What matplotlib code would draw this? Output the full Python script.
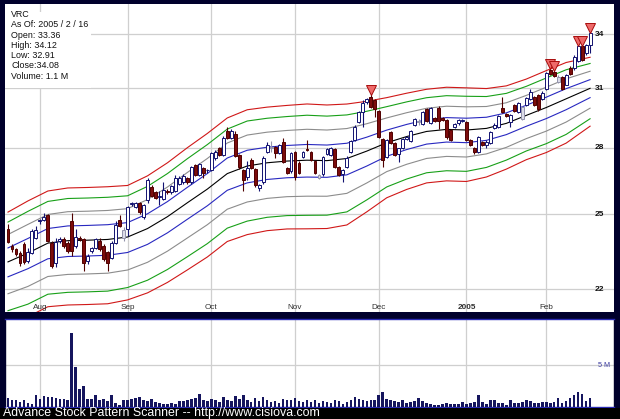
import numpy as np
import matplotlib
matplotlib.use("Agg")
import matplotlib.pyplot as plt
from matplotlib.patches import Rectangle
from matplotlib.transforms import blended_transform_factory

# ---------------- data ----------------
opens = [24.4, 23.7, 23.55, 23.4, 23.75, 23.1, 23.4, 24.0, 24.7, 24.75,
         24.95, 23.8, 23.0, 23.9, 23.95, 23.8, 24.7, 23.7, 24.0, 23.95,
         23.1, 23.5, 23.6, 23.9, 23.7, 23.45, 23.2, 23.8, 24.75, 24.0,
         24.4, 25.45, 25.3, 25.5, 24.9, 25.6, 26.2, 25.95, 25.75, 25.65,
         26.0, 25.95, 26.0, 26.35, 26.4, 26.6, 26.4, 27.2, 26.75, 27.05,
         26.95, 26.95, 27.5, 28.0, 27.65, 28.8, 28.5, 28.65, 27.65, 26.95,
         26.65, 27.45, 27.0, 26.15, 26.4, 27.8, 28.0, 28.05, 27.75, 28.3,
         27.05, 26.9, 27.8, 27.3, 27.55, 27.95, 27.8, 27.4, 26.6, 26.8,
         27.7, 27.65, 27.95, 27.1, 26.8, 27.1, 27.8, 28.4, 29.25, 29.75,
         30.3, 30.55, 30.4, 29.8, 28.45, 27.55, 28.75, 28.25, 27.7, 28.0,
         28.45, 28.35, 29.1, 29.25, 29.15, 29.9, 29.2, 29.45, 30.0, 29.45,
         29.35, 28.85, 29.0, 29.2, 29.3, 29.25, 28.4, 28.0, 27.8, 28.3,
         28.15, 28.25, 28.95, 29.0, 30.0, 29.65, 29.25, 30.15, 29.75, 29.4,
         30.15, 30.45, 30.55, 30.65, 30.45, 30.95, 32.0, 31.9, 31.35, 31.6,
         31.2, 32.1, 32.1, 32.5, 33.3, 32.9, 33.36]
highs = [24.6, 23.75, 23.6, 23.5, 23.85, 23.6, 24.4, 24.5, 24.8, 25.05,
         25.0, 23.9, 24.0, 24.05, 24.05, 23.9, 25.05, 24.4, 24.1, 24.0,
         23.35, 23.65, 24.0, 24.0, 23.75, 23.5, 23.9, 24.7, 24.95, 24.45,
         25.35, 25.55, 25.55, 25.55, 25.45, 26.6, 26.3, 26.0, 26.0, 26.4,
         26.1, 26.3, 26.75, 26.7, 26.8, 26.65, 27.15, 27.25, 27.3, 27.1,
         27.0, 27.8, 27.9, 28.05, 28.6, 29.0, 28.9, 28.8, 27.7, 27.0,
         27.4, 27.5, 27.05, 26.35, 27.6, 28.3, 28.35, 28.1, 28.2, 28.5,
         27.1, 27.8, 27.85, 27.4, 27.85, 28.4, 27.85, 27.45, 26.8, 27.6,
         28.0, 28.05, 28.0, 27.15, 27.0, 27.6, 28.4, 29.1, 29.8, 30.4,
         30.5, 30.7, 30.45, 29.85, 28.5, 28.45, 28.8, 28.3, 28.0, 28.5,
         28.6, 28.85, 29.45, 29.4, 29.8, 30.0, 30.05, 29.5, 30.1, 29.5,
         29.4, 28.9, 29.2, 29.4, 29.4, 29.3, 28.45, 28.05, 28.6, 28.35,
         28.4, 28.8, 29.2, 29.6, 30.55, 29.7, 29.65, 30.2, 30.3, 30.1,
         30.55, 30.95, 30.6, 30.7, 30.85, 31.9, 32.1, 32.0, 31.7, 31.65,
         31.75, 32.2, 32.8, 33.35, 33.4, 33.45, 34.12]
lows = [23.8, 23.45, 23.3, 22.9, 22.95, 23.0, 23.35, 23.95, 24.6, 24.7,
        23.85, 22.8, 22.85, 23.8, 23.6, 23.4, 23.3, 23.6, 23.9, 22.7,
        22.95, 23.4, 23.55, 23.5, 23.1, 22.7, 23.15, 23.75, 24.45, 23.9,
        24.1, 25.35, 25.25, 25.0, 24.8, 25.5, 25.75, 25.65, 25.4, 25.6,
        25.9, 25.9, 25.95, 26.3, 26.35, 26.35, 26.35, 26.7, 26.7, 26.6,
        26.85, 26.9, 27.45, 27.6, 27.6, 28.45, 28.45, 27.55, 27.0, 26.0,
        26.5, 27.0, 26.2, 26.0, 26.35, 27.75, 27.8, 27.5, 27.7, 27.3,
        26.8, 26.85, 26.5, 26.8, 27.5, 27.85, 27.4, 26.8, 26.55, 26.7,
        27.65, 27.6, 27.05, 26.7, 26.4, 27.05, 27.75, 28.35, 29.2, 29.0,
        30.2, 30.0, 29.5, 28.5, 27.1, 27.5, 28.2, 27.6, 27.35, 27.95,
        28.4, 28.3, 29.05, 29.1, 29.1, 29.25, 29.15, 29.25, 28.9, 29.3,
        28.45, 28.35, 28.95, 29.1, 29.25, 28.35, 28.1, 27.7, 27.75, 28.1,
        28.0, 28.2, 28.9, 28.95, 29.7, 29.5, 29.0, 29.75, 29.7, 29.35,
        30.1, 30.4, 30.1, 29.8, 30.4, 30.9, 31.7, 31.6, 31.3, 30.9,
        31.15, 31.7, 32.0, 32.45, 32.5, 32.8, 32.91]
closes = [23.85, 23.55, 23.35, 23.0, 23.05, 23.45, 24.3, 24.35, 24.75, 24.9,
          23.9, 22.9, 23.85, 23.95, 23.7, 23.5, 23.5, 24.05, 23.95, 23.0,
          23.3, 23.6, 23.95, 23.55, 23.15, 23.0, 23.8, 24.55, 24.5, 24.35,
          25.3, 25.5, 25.5, 25.1, 25.4, 26.5, 25.8, 25.7, 25.8, 26.05,
          25.95, 26.25, 26.6, 26.6, 26.7, 26.4, 27.1, 26.75, 27.25, 26.85,
          26.97, 27.75, 27.8, 27.65, 28.5, 28.5, 28.8, 27.6, 27.1, 26.5,
          27.05, 27.05, 26.3, 26.3, 27.5, 28.15, 28.05, 27.75, 28.15, 27.35,
          26.85, 27.75, 26.65, 26.85, 27.8, 27.9, 27.45, 26.85, 26.75, 27.55,
          27.95, 28.0, 27.1, 26.75, 26.95, 27.5, 28.35, 29.0, 29.75, 30.25,
          30.45, 30.05, 29.9, 28.55, 27.45, 28.4, 28.25, 27.65, 28.0, 28.45,
          28.55, 28.8, 29.4, 29.3, 29.75, 29.3, 30.0, 29.3, 29.3, 29.35,
          28.55, 28.4, 29.15, 29.35, 29.38, 28.4, 28.15, 27.8, 28.55, 28.15,
          28.3, 28.75, 29.1, 29.55, 29.75, 29.55, 29.6, 29.8, 30.25, 30.05,
          30.5, 30.8, 30.15, 29.9, 30.75, 31.8, 31.75, 31.65, 31.6, 30.95,
          31.7, 31.75, 32.7, 33.3, 32.55, 33.4, 34.08]
volumes_m = [1.1, 0.8, 0.9, 0.6, 0.8, 0.5, 0.4, 1.5, 1.0, 1.3,
             1.2, 1.2, 1.1, 1.0, 1.0, 0.9, 8.9, 4.8, 2.2, 2.5,
             1.0, 1.0, 1.5, 0.8, 1.0, 0.7, 1.4, 0.5, 0.3, 0.9,
             0.8, 1.0, 1.1, 1.2, 0.8, 0.7, 1.0, 0.6, 0.5, 0.4,
             0.4, 0.5, 0.4, 0.7, 0.7, 0.9, 1.0, 1.1,
             1.6, 0.8, 0.7, 1.0, 0.9, 0.6, 1.2, 0.9, 0.7, 1.3,
             1.0, 1.5, 0.8, 0.6, 1.1, 0.7, 1.2, 0.9, 0.6, 0.7,
             0.5, 1.0, 0.8, 0.9, 1.1, 0.7, 0.6, 0.8, 0.6, 0.9,
             0.5, 0.7, 0.6, 0.5, 0.8, 0.7, 0.4, 0.6, 0.9, 1.2,
             1.0, 0.9, 0.7, 0.8, 0.9, 1.5, 1.8, 1.0, 0.8, 0.7,
             0.6, 0.8, 0.5, 0.6,
             0.7, 1.1, 0.7, 0.5, 0.4, 0.3, 0.3, 0.35, 0.45, 0.35,
             0.35, 0.4, 0.65, 0.4, 0.5, 0.65, 1.4, 0.6, 0.4, 0.9,
             0.9, 0.5, 0.5, 0.3, 0.9, 0.5, 0.5, 0.65, 0.9, 0.7,
             0.5, 0.5, 0.55, 0.55, 0.5, 0.55, 1.1, 0.5, 0.7, 1.1,
             1.5, 1.8, 1.6, 0.7, 1.1]

# trading-day index of the first session of each month and its label
month_days = [8, 30, 51, 72, 93, 115, 135]
month_labels = ["Aug", "Sep", "Oct", "Nov", "Dec", "2005", "Feb"]
price_ticks = [22, 25, 28, 31, 34]
signal_days = [91, 136, 137, 143, 144, 146]

# envelope bands: centre line, log half-width, level of each band
band_days = [0, 5, 10, 15, 20, 25, 30, 35, 40, 45, 50, 55, 60, 65, 70,
             75, 80, 85, 90, 95, 100, 105, 110, 115, 120, 125, 130, 135, 140, 146]
band_center = [23.05, 23.4, 23.8, 23.9, 23.92, 23.95, 24.05, 24.4, 24.9, 25.5,
               26.1, 26.8, 27.15, 27.3, 27.38, 27.42, 27.4, 27.5, 27.85, 28.25,
               28.55, 28.8, 28.9, 28.87, 28.95, 29.2, 29.6, 30.0, 30.45, 31.0]
band_spread = [0.085, 0.089, 0.089, 0.09, 0.09, 0.09, 0.088, 0.09, 0.092, 0.094,
               0.095, 0.095, 0.096, 0.095, 0.095, 0.096, 0.095, 0.093, 0.085, 0.077,
               0.074, 0.072, 0.072, 0.072, 0.068, 0.064, 0.062, 0.063, 0.062, 0.053]
band_levels = [1.0, 0.8, 0.55, 0.28, 0.0, -0.3, -0.64, -0.98, -1.22]
band_colors = ["#d01818", "#18a018", "#8c8c8c", "#2828c0", "#000000",
               "#2828c0", "#8c8c8c", "#18a018", "#d01818"]

info_lines = ["VRC", "As Of: 2005 / 2 / 16", "Open: 33.36", "High: 34.12",
              "Low: 32.91", "Close:34.08", "Volume: 1.1 M"]
footer = "Advance Stock Pattern Scanner -- http://www.cisiova.com"

# ---------------- figure ----------------
W, H = 620, 419
fig = plt.figure(figsize=(W / 100, H / 100), dpi=100, facecolor="#00002c")
FONT = "Liberation Sans"

def px_axes(x0, y0, x1, y1):
    return fig.add_axes([x0 / W, 1 - y1 / H, (x1 - x0) / W, (y1 - y0) / H])

ax = px_axes(5, 4, 614, 312)
axv = px_axes(5, 319, 614, 407)

days = np.arange(len(closes))
o = np.array(opens); h = np.array(highs); l = np.array(lows); c = np.array(closes)
xlim = (-0.75, 152.0)
grid_col = "#cfcfcf"

# price panel
ax.set_facecolor("white")
ax.set_yscale("log")
ax.set_xlim(*xlim)
ax.set_ylim(21.16, 35.8)
for sp in ax.spines.values():
    sp.set_visible(False)
ax.set_xticks([]); ax.set_yticks([]); ax.minorticks_off()
ax.tick_params(which="both", left=False, bottom=False, labelleft=False, labelbottom=False)
for d in month_days:
    ax.axvline(d, color=grid_col, lw=0.9, zorder=0.5)
for p in price_ticks:
    ax.axhline(p, color=grid_col, lw=0.9, zorder=0.5)

bd = np.array(band_days); bc = np.array(band_center); bs = np.array(band_spread)
for lev, col in zip(band_levels, band_colors):
    ax.plot(bd, bc * np.exp(lev * bs), color=col, lw=0.8, zorder=2)

prev = np.concatenate([[c[0]], c[:-1]])
face, edge = [], []
for oi, ci, pi in zip(o, c, prev):
    if ci < oi:
        face.append("#7c0c0c"); edge.append("#500000")
    elif ci >= pi:
        face.append("white"); edge.append("#121270")
    else:
        face.append("#dcdce8"); edge.append("#9494ac")
ax.vlines(days, l, h, colors=edge, lw=0.8, zorder=3)
ax.bar(days, np.maximum(np.abs(c - o), 0.02), bottom=np.minimum(o, c), width=0.72,
       color=face, edgecolor=edge, linewidth=0.7, zorder=4)

sd = np.array(signal_days)
ax.plot(sd, h[sd] * 1.007, linestyle="none", marker="v", markersize=7.2,
        markerfacecolor="#ee6a6a", markeredgecolor="#a80c0c", markeredgewidth=0.7, zorder=5)

tr = blended_transform_factory(ax.transData, ax.transAxes)
for d, lab in zip(month_days, month_labels):
    ax.text(d, 0.004, lab, transform=tr, ha="center", va="bottom", fontsize=5.9,
            family=FONT, color="#303030", fontweight="bold" if lab == "2005" else "normal",
            zorder=6)
for p in price_ticks:
    ax.text(147.2, p, str(p), ha="left", va="center", fontsize=6.0, family=FONT,
            color="#101010", fontweight="bold", zorder=6)

# white box behind the info block
ax.add_patch(Rectangle((0, 1 - 84 / 308), 86 / 609, 76 / 308, transform=ax.transAxes,
                       facecolor="white", edgecolor="none", zorder=1))
ys = [14.5, 24.5, 35, 45.5, 56, 66, 76.5]
for yy, t in zip(ys, info_lines):
    fig.text(11 / W, 1 - yy / H, t, ha="left", va="center", fontsize=6.4,
             family=FONT, color="#101010")

# volume panel
axv.set_facecolor("white")
axv.set_xlim(*xlim)
axv.set_ylim(0, 10.6)
axv.set_xticks([]); axv.set_yticks([])
for name, sp in axv.spines.items():
    sp.set_color("#2a2ab4" if name in ("top", "bottom") else "#00002c")
    sp.set_linewidth(1.0)
for d in month_days:
    axv.axvline(d, color=grid_col, lw=0.9, zorder=0.5)
axv.axhline(5, color=grid_col, lw=0.9, zorder=0.5)
axv.bar(days, volumes_m, width=0.65, color="#15155e", zorder=3)
axv.text(148.0, 5, "5 M", ha="left", va="center", fontsize=5.2, family=FONT,
         color="#3a3aa0")

# footer strip
fig.patches.append(Rectangle((0, 0), 1, 11.5 / H, transform=fig.transFigure,
                             facecolor="black", edgecolor="none", zorder=0))
fig.text(3 / W, 1 - 412.5 / H, footer, ha="left", va="center", fontsize=8.9,
         family=FONT, color="white")

fig.savefig("out.png", dpi=100, facecolor=fig.get_facecolor())
